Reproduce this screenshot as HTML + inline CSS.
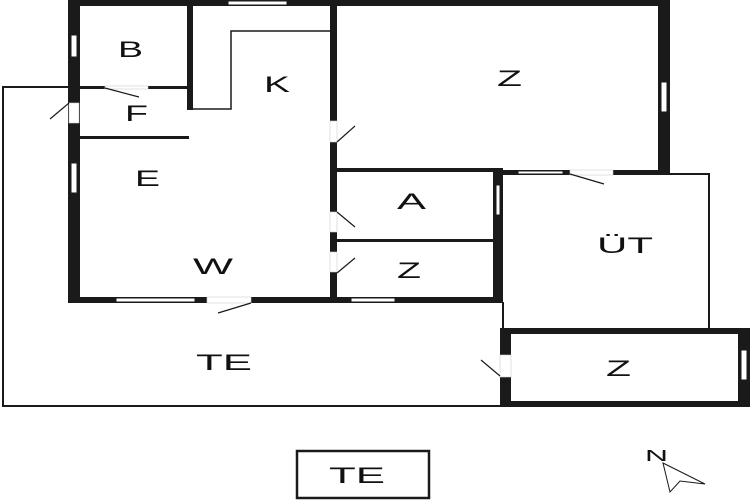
<!DOCTYPE html>
<html><head><meta charset="utf-8"><style>
html,body{margin:0;padding:0;background:#fff;}
svg{display:block;}
text{font-family:"Liberation Sans",sans-serif;font-size:22px;fill:#111;}
</style></head><body>
<svg width="750" height="500" viewBox="0 0 750 500" xmlns="http://www.w3.org/2000/svg">
<g fill="none" stroke="#1a1a1a" stroke-width="2">
  <polyline points="68,87 3,87 3,406 503,406"/>
  <polyline points="503,174 709,174 709,328"/>
  <line x1="503" y1="302" x2="503" y2="328"/>
  <polyline points="193,109 231,109 231,31 330,31" stroke-width="1.5"/>
  <rect x="297" y="451" width="132" height="47" stroke-width="2.5"/>
</g>
<g fill="#1a1a1a">
  <rect x="68" y="0" width="602" height="6"/>
  <rect x="68" y="0" width="12" height="303"/>
  <rect x="68" y="297" width="435" height="6"/>
  <rect x="330" y="0" width="7" height="303"/>
  <rect x="658" y="0" width="12" height="174"/>
  <rect x="333" y="168" width="170" height="4"/>
  <rect x="503" y="170" width="167" height="5"/>
  <rect x="187" y="0" width="6" height="110"/>
  <rect x="80" y="86" width="107" height="3"/>
  <rect x="80" y="136" width="109" height="3"/>
  <rect x="336" y="239" width="158" height="3"/>
  <rect x="493" y="172" width="10" height="131"/>
  <rect x="500" y="328" width="250" height="6"/>
  <rect x="500" y="401" width="250" height="6"/>
  <rect x="500" y="328" width="11" height="79"/>
  <rect x="738" y="328" width="12" height="79"/>
</g>
<g fill="#fff" stroke="#1a1a1a" stroke-width="1">
  <rect x="228" y="1" width="59" height="4"/>
  <rect x="71" y="35" width="6" height="22"/>
  <rect x="71" y="163" width="6" height="30"/>
  <rect x="116" y="298" width="79" height="4"/>
  <rect x="351" y="298" width="44" height="4"/>
  <rect x="661" y="82" width="6" height="30"/>
  <rect x="496" y="185" width="4" height="30"/>
  <rect x="518" y="171" width="45" height="3"/>
  <rect x="741" y="350" width="6" height="30"/>
</g>
<g fill="#fff" stroke="#ccc" stroke-width="0.6">
  <rect x="69" y="103" width="10" height="20"/>
  <rect x="105" y="86" width="43" height="3"/>
  <rect x="207" y="297" width="44" height="6"/>
  <rect x="330" y="121" width="7" height="21"/>
  <rect x="330" y="212" width="7" height="20"/>
  <rect x="330" y="252" width="7" height="20"/>
  <rect x="570" y="170" width="43" height="5"/>
  <rect x="500" y="355" width="11" height="22"/>
</g>
<g stroke="#1a1a1a" stroke-width="1.2">
  <line x1="69" y1="103" x2="50" y2="119"/>
  <line x1="105" y1="88" x2="139" y2="97"/>
  <line x1="251" y1="303" x2="218" y2="313"/>
  <line x1="337" y1="142" x2="355" y2="126"/>
  <line x1="337" y1="212" x2="355" y2="227"/>
  <line x1="337" y1="273" x2="355" y2="258"/>
  <line x1="570" y1="174" x2="604" y2="184"/>
  <line x1="500" y1="376" x2="481" y2="360"/>
</g>
<g lengthAdjust="spacingAndGlyphs">
<text x="118" y="57" textLength="25" lengthAdjust="spacingAndGlyphs">B</text>
<text x="125" y="121" textLength="23" lengthAdjust="spacingAndGlyphs">F</text>
<text x="264" y="92" textLength="26" lengthAdjust="spacingAndGlyphs">K</text>
<text x="135" y="186" textLength="25" lengthAdjust="spacingAndGlyphs">E</text>
<text x="193" y="274" textLength="40" lengthAdjust="spacingAndGlyphs">W</text>
<text x="497" y="86" textLength="25" lengthAdjust="spacingAndGlyphs">Z</text>
<text x="397" y="209" textLength="29" lengthAdjust="spacingAndGlyphs">A</text>
<text x="397" y="278" textLength="24" lengthAdjust="spacingAndGlyphs">Z</text>
<text x="597" y="253" textLength="56" lengthAdjust="spacingAndGlyphs">ÜT</text>
<text x="606" y="376" textLength="25" lengthAdjust="spacingAndGlyphs">Z</text>
<text x="196" y="370" textLength="56" lengthAdjust="spacingAndGlyphs">TE</text>
<text x="329" y="483" textLength="56" lengthAdjust="spacingAndGlyphs">TE</text>
<text x="645" y="461" style="font-size:16px" textLength="23" lengthAdjust="spacingAndGlyphs">N</text>
</g>
<polygon points="663,463 705,484 680,481 670,492" fill="none" stroke="#1a1a1a" stroke-width="1"/>
</svg>
</body></html>
